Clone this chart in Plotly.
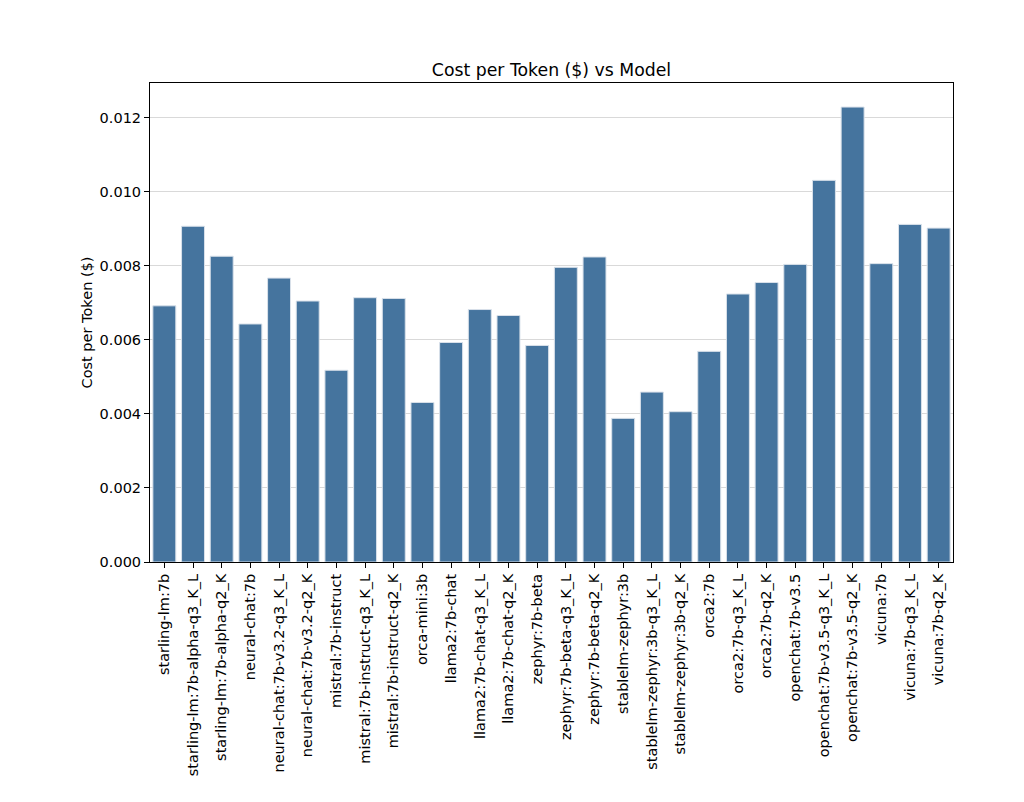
import plotly.graph_objects as go

models = [
    "starling-lm:7b", "starling-lm:7b-alpha-q3_K_L", "starling-lm:7b-alpha-q2_K",
    "neural-chat:7b", "neural-chat:7b-v3.2-q3_K_L", "neural-chat:7b-v3.2-q2_K",
    "mistral:7b-instruct", "mistral:7b-instruct-q3_K_L", "mistral:7b-instruct-q2_K",
    "orca-mini:3b", "llama2:7b-chat", "llama2:7b-chat-q3_K_L", "llama2:7b-chat-q2_K",
    "zephyr:7b-beta", "zephyr:7b-beta-q3_K_L", "zephyr:7b-beta-q2_K",
    "stablelm-zephyr:3b", "stablelm-zephyr:3b-q3_K_L", "stablelm-zephyr:3b-q2_K",
    "orca2:7b", "orca2:7b-q3_K_L", "orca2:7b-q2_K",
    "openchat:7b-v3.5", "openchat:7b-v3.5-q3_K_L", "openchat:7b-v3.5-q2_K",
    "vicuna:7b", "vicuna:7b-q3_K_L", "vicuna:7b-q2_K",
]
cost_per_token = [
    0.00692, 0.00907, 0.00826,
    0.00643, 0.00767, 0.00705,
    0.00518, 0.00714, 0.00712,
    0.00431, 0.00593, 0.00682, 0.00666,
    0.00585, 0.00796, 0.00824,
    0.00388, 0.00459, 0.00406,
    0.00569, 0.00724, 0.00755,
    0.00804, 0.01031, 0.01229,
    0.00806, 0.00912, 0.00902,
]
y_ticks = [0.000, 0.002, 0.004, 0.006, 0.008, 0.010, 0.012]

FONT = "DejaVu Sans"
fig = go.Figure(go.Bar(
    x=list(range(len(models))),
    y=cost_per_token,
    width=0.8,
    marker=dict(color="#45749e", line=dict(color="#d9e1ea", width=1)),
))

fig.update_layout(
    width=1024, height=802,
    margin=dict(l=142, r=79, t=75, b=248),
    paper_bgcolor="white", plot_bgcolor="white",
    font=dict(family=FONT, size=14.5, color="black"),
    title=dict(text="Cost per Token ($) vs Model", x=(142 + 945) / 2 / 1024, xanchor="center",
               y=1 - 62 / 802, yanchor="middle", font=dict(size=17.3, family=FONT)),
    showlegend=False,
    bargap=0.2,
)
fig.update_xaxes(
    range=[-0.5, len(models) - 0.5],
    tickmode="array", tickvals=list(range(len(models))), ticktext=models,
    tickangle=-90, ticks="outside", ticklen=5, tickwidth=1, tickcolor="black",
    showline=True, linecolor="black", linewidth=1, mirror=True,
    showgrid=False, zeroline=False,
)
fig.update_yaxes(
    range=[0, 0.01294],
    tickmode="array", tickvals=y_ticks, ticktext=[f"{v:.3f}" for v in y_ticks],
    ticks="outside", ticklen=5, tickwidth=1, tickcolor="black",
    showline=True, linecolor="black", linewidth=1, mirror=True,
    showgrid=True, gridcolor="#d9d9d9", gridwidth=1, zeroline=False,
    title=dict(text="Cost per Token ($)", font=dict(size=14.5, family=FONT), standoff=3),
)

fig.write_html("out.html")
